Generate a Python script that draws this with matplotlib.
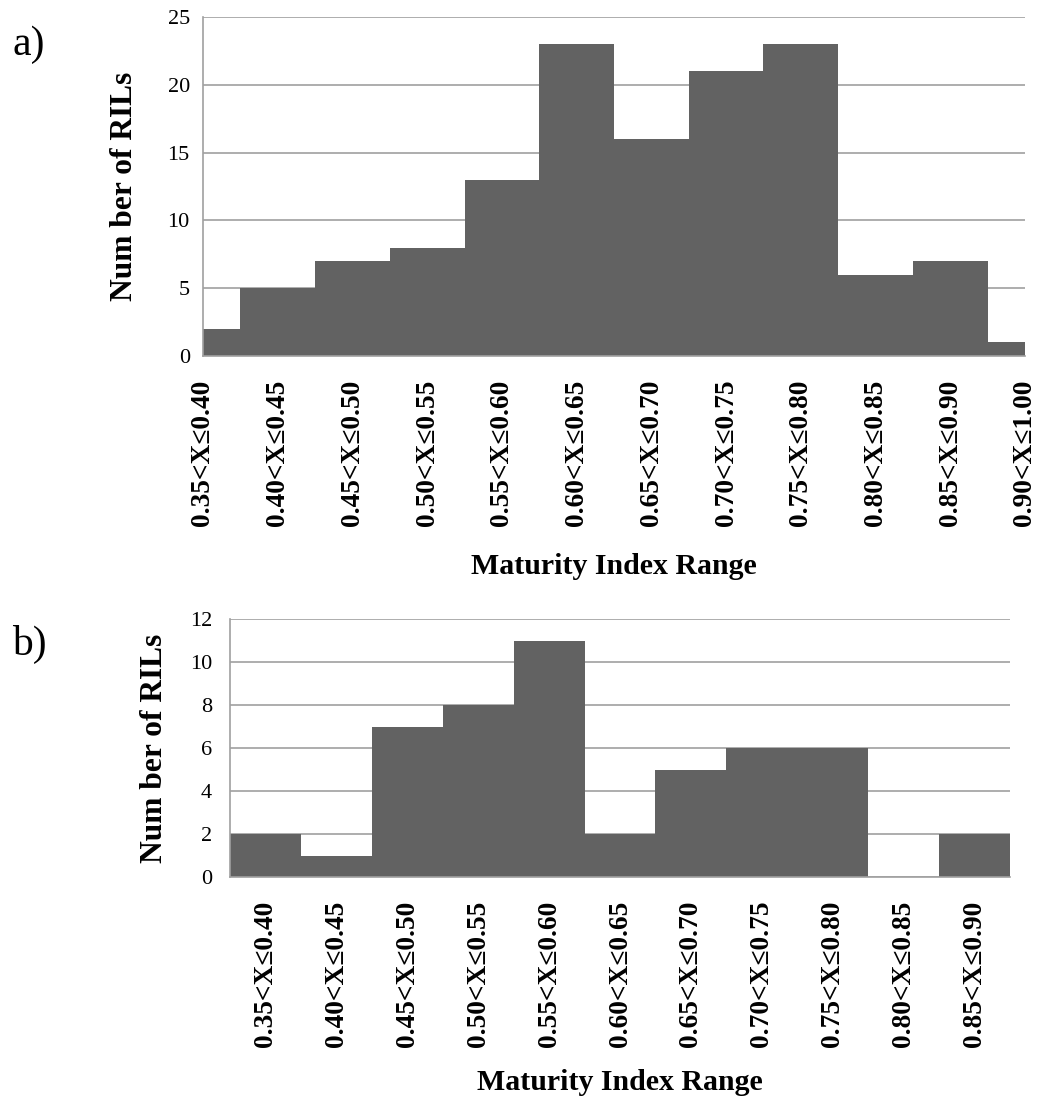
import matplotlib
matplotlib.use("Agg")
import matplotlib.pyplot as plt

# panel a) counts per maturity index class
labels_a = ["0.35<X≤0.40", "0.40<X≤0.45", "0.45<X≤0.50", "0.50<X≤0.55",
            "0.55<X≤0.60", "0.60<X≤0.65", "0.65<X≤0.70", "0.70<X≤0.75",
            "0.75<X≤0.80", "0.80<X≤0.85", "0.85<X≤0.90", "0.90<X≤1.00"]
counts_a = [2, 5, 7, 8, 13, 23, 16, 21, 23, 6, 7, 1]
yticks_a = [0, 5, 10, 15, 20, 25]

# panel b)
labels_b = ["0.35<X≤0.40", "0.40<X≤0.45", "0.45<X≤0.50", "0.50<X≤0.55",
            "0.55<X≤0.60", "0.60<X≤0.65", "0.65<X≤0.70", "0.70<X≤0.75",
            "0.75<X≤0.80", "0.80<X≤0.85", "0.85<X≤0.90"]
counts_b = [2, 1, 7, 8, 11, 2, 5, 6, 6, 0, 2]
yticks_b = [0, 2, 4, 6, 8, 10, 12]

BAR = "#626262"
GRID = "#a0a0a0"
plt.rcParams["font.family"] = ["Liberation Serif", "DejaVu Serif"]

W, H = 1041, 1103
fig = plt.figure(figsize=(W / 100, H / 100), dpi=100)


def px_axes(left, top, right, bottom):
    return fig.add_axes([left / W, 1 - bottom / H, (right - left) / W, (bottom - top) / H])


def style(ax, labels, yticks, xlim, ypad):
    ax.set_xlim(*xlim)
    ax.set_ylim(yticks[0], yticks[-1])
    ax.set_yticks(yticks)
    ax.set_xticks(range(len(labels)))
    ax.set_xticklabels(labels, rotation=90, fontsize=19.7, fontweight="bold", va="top")
    ax.tick_params(axis="x", length=0, pad=17)
    ax.tick_params(axis="y", length=0, pad=ypad, labelsize=16)
    ax.yaxis.grid(True, color=GRID, linewidth=1.2)
    ax.set_axisbelow(True)
    for s in ("top", "right"):
        ax.spines[s].set_visible(False)
    for s in ("left", "bottom"):
        ax.spines[s].set_color(GRID)
        ax.spines[s].set_linewidth(1.2)


ax1 = px_axes(203, 17, 1025, 356)
ax1.bar(range(len(counts_a)), counts_a, width=1.0, color=BAR, edgecolor="none")
style(ax1, labels_a, yticks_a, (0, len(counts_a) - 1), 9.5)
ax1.text(0.5, (356 - 566) / 339, "Maturity Index Range", transform=ax1.transAxes,
         ha="center", va="center", fontsize=21.5, fontweight="bold")
ax1.text((125 - 203) / 822, 0.5, "Num ber of RILs", transform=ax1.transAxes,
         ha="center", va="center", rotation=90, fontsize=22.7, fontweight="bold")

ax2 = px_axes(230, 619, 1010, 877)
ax2.bar(range(len(counts_b)), counts_b, width=1.0, color=BAR, edgecolor="none")
style(ax2, labels_b, yticks_b, (-0.5, len(counts_b) - 0.5), 13)
ax2.text(0.5, (877 - 1082) / 258, "Maturity Index Range", transform=ax2.transAxes,
         ha="center", va="center", fontsize=21.5, fontweight="bold")
ax2.text((155 - 230) / 780, 0.5, "Num ber of RILs", transform=ax2.transAxes,
         ha="center", va="center", rotation=90, fontsize=22.7, fontweight="bold")

fig.text(12 / W, 1 - 45 / H, "a)", fontsize=30, ha="left", va="center")
fig.text(12 / W, 1 - 644 / H, "b)", fontsize=30, ha="left", va="center")

fig.savefig("out.png", dpi=100)
